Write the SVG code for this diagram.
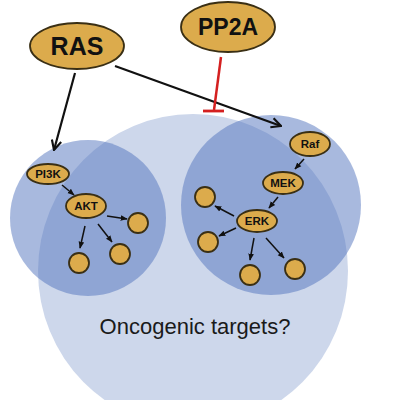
<svg xmlns="http://www.w3.org/2000/svg" width="400" height="400" viewBox="0 0 400 400">
<style>
.node{fill:#dcab4c;stroke:#3a2f14;stroke-width:1.8}
.big{font-family:"Liberation Sans",Arial,sans-serif;font-weight:bold;fill:#111;text-anchor:middle}
.sm{font-family:"Liberation Sans",Arial,sans-serif;font-weight:bold;fill:#111;text-anchor:middle;font-size:11.5px}
.c{stroke:#111;fill:none}
.zone{fill:#5173bd;fill-opacity:0.5}
</style>
<defs>
<marker id="v" viewBox="0 0 10 10" refX="9" refY="5" markerWidth="7" markerHeight="7" orient="auto" markerUnits="userSpaceOnUse">
<path d="M0,1 L10,5 L0,9 Z" fill="#111"/>
</marker>
<marker id="vb" viewBox="0 0 10 10" refX="9" refY="5" markerWidth="12" markerHeight="12" orient="auto" markerUnits="userSpaceOnUse">
<path d="M1,1 L9,5 L1,9" fill="none" stroke="#111" stroke-width="1.8"/>
</marker>
</defs>
<rect width="400" height="400" fill="#fff"/>
<g id="background">
<ellipse cx="193" cy="271" rx="155" ry="157" fill="#cdd7eb"/>
<circle cx="88" cy="218" r="78" class="zone"/>
<circle cx="271" cy="205" r="90" class="zone"/>
</g>
<g id="connectors">
<line x1="75" y1="73" x2="54" y2="150" class="c" stroke-width="2.2" marker-end="url(#vb)"/>
<line x1="115" y1="66" x2="281" y2="126" class="c" stroke-width="2.2" marker-end="url(#vb)"/>
<line x1="221" y1="57" x2="214" y2="110" stroke="#d42020" stroke-width="2.5"/>
<line x1="203" y1="111" x2="224" y2="111" stroke="#d42020" stroke-width="2.8"/>
<line x1="62" y1="185" x2="74" y2="195" class="c" stroke-width="1.5" marker-end="url(#v)"/>
<line x1="107" y1="216" x2="127" y2="219" class="c" stroke-width="1.5" marker-end="url(#v)"/>
<line x1="85" y1="226" x2="80" y2="248" class="c" stroke-width="1.5" marker-end="url(#v)"/>
<line x1="98" y1="224" x2="112" y2="242" class="c" stroke-width="1.5" marker-end="url(#v)"/>
<line x1="304" y1="159" x2="295" y2="169" class="c" stroke-width="1.5" marker-end="url(#v)"/>
<line x1="278" y1="197" x2="269" y2="208" class="c" stroke-width="1.5" marker-end="url(#v)"/>
<line x1="234" y1="216" x2="215" y2="206" class="c" stroke-width="1.5" marker-end="url(#v)"/>
<line x1="236" y1="228" x2="219" y2="236" class="c" stroke-width="1.5" marker-end="url(#v)"/>
<line x1="254" y1="238" x2="250" y2="260" class="c" stroke-width="1.5" marker-end="url(#v)"/>
<line x1="266" y1="238" x2="284" y2="258" class="c" stroke-width="1.5" marker-end="url(#v)"/>
</g>
<g id="RAS"><ellipse cx="77" cy="46" rx="47" ry="23" class="node"/><text x="77" y="55" class="big" font-size="25">RAS</text></g>
<g id="PP2A"><ellipse cx="228" cy="27" rx="47" ry="25" class="node"/><text x="228" y="35" class="big" font-size="23">PP2A</text></g>
<g id="PI3K"><ellipse cx="48" cy="174" rx="21" ry="10" class="node"/><text x="48" y="178" class="sm" font-size="10.5">PI3K</text></g>
<g id="AKT"><ellipse cx="86" cy="206" rx="20" ry="12" class="node"/><text x="86" y="210" class="sm">AKT</text></g>
<g id="akt_t1"><circle cx="138" cy="223" r="10" class="node" stroke-width="1"/></g>
<g id="akt_t2"><circle cx="79" cy="263" r="10" class="node" stroke-width="1"/></g>
<g id="akt_t3"><circle cx="120" cy="254" r="10" class="node" stroke-width="1"/></g>
<g id="Raf"><ellipse cx="310" cy="144" rx="20" ry="12" class="node"/><text x="310" y="148" class="sm">Raf</text></g>
<g id="MEK"><ellipse cx="283" cy="183" rx="20" ry="11" class="node"/><text x="283" y="187" class="sm">MEK</text></g>
<g id="ERK"><ellipse cx="257" cy="221" rx="20" ry="11" class="node"/><text x="257" y="225" class="sm">ERK</text></g>
<g id="erk_t1"><circle cx="205" cy="197" r="10" class="node" stroke-width="1"/></g>
<g id="erk_t2"><circle cx="208" cy="242" r="10" class="node" stroke-width="1"/></g>
<g id="erk_t3"><circle cx="250" cy="275" r="10" class="node" stroke-width="1"/></g>
<g id="erk_t4"><circle cx="295" cy="269" r="10" class="node" stroke-width="1"/></g>
<g id="label"><text x="195" y="334" font-family="Liberation Sans,Arial,sans-serif" font-size="22" fill="#1a1a1a" text-anchor="middle">Oncogenic targets?</text></g>
</svg>
